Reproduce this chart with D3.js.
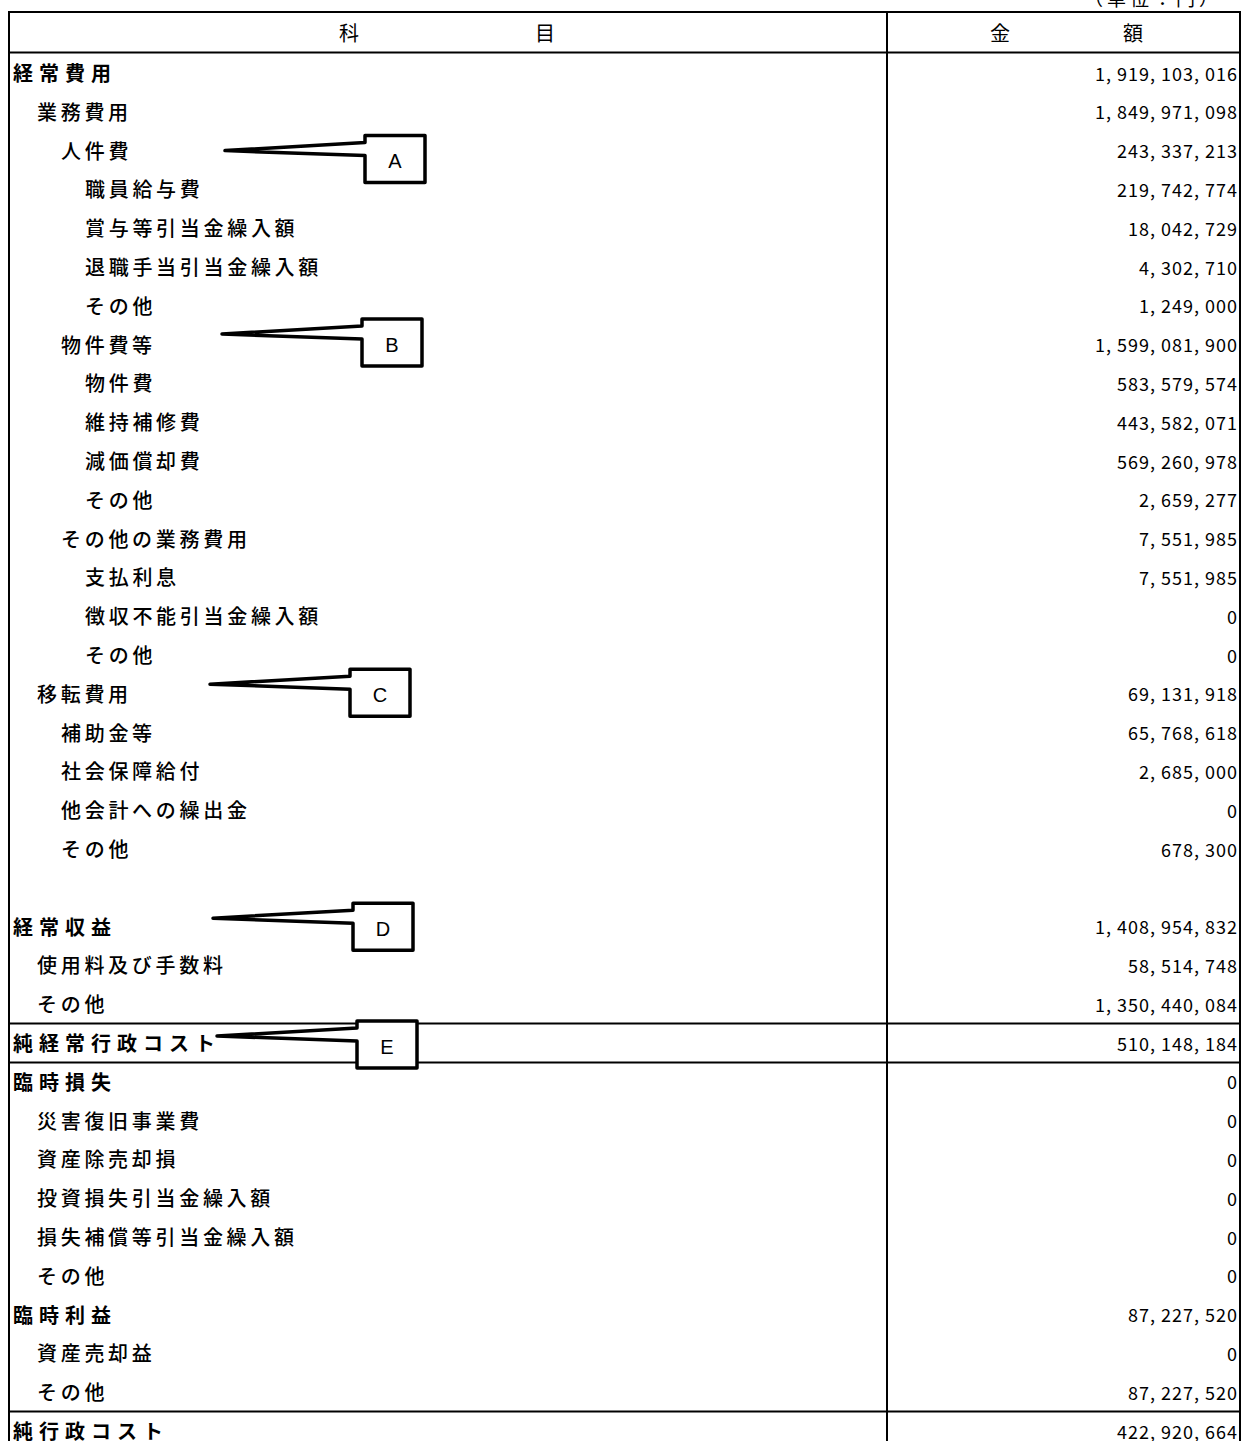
<!DOCTYPE html>
<html>
<head>
<meta charset="utf-8">
<script src="https://cdn.jsdelivr.net/npm/d3@7"></script>
<style>
  body { margin: 0; background: #fff; }
  svg text { font-family: "Noto Sans CJK JP", "Noto Sans", sans-serif; fill: #000; }
</style>
</head>
<body>
<div id="table"></div>
<script>
// Row data (科目 / 金額)
const rowLabels = [
    "経常費用", "業務費用", "人件費", "職員給与費", "賞与等引当金繰入額", "退職手当引当金繰入額", "その他",
    "物件費等", "物件費", "維持補修費", "減価償却費", "その他",
    "その他の業務費用", "支払利息", "徴収不能引当金繰入額", "その他",
    "移転費用", "補助金等", "社会保障給付", "他会計への繰出金", "その他",
    "",
    "経常収益", "使用料及び手数料", "その他",
    "純経常行政コスト",
    "臨時損失", "災害復旧事業費", "資産除売却損", "投資損失引当金繰入額", "損失補償等引当金繰入額", "その他",
    "臨時利益", "資産売却益", "その他",
    "純行政コスト"
];
const rowLevels = [
    0, 1, 2, 3, 3, 3, 3,
    2, 3, 3, 3, 3,
    2, 3, 3, 3,
    1, 2, 2, 2, 2,
    0,
    0, 1, 1,
    0,
    0, 1, 1, 1, 1, 1,
    0, 1, 1,
    0
];
const rowAmounts = [
    1919103016, 1849971098, 243337213, 219742774, 18042729, 4302710, 1249000,
    1599081900, 583579574, 443582071, 569260978, 2659277,
    7551985, 7551985, 0, 0,
    69131918, 65768618, 2685000, 0, 678300,
    null,
    1408954832, 58514748, 1350440084,
    510148184,
    0, 0, 0, 0, 0, 0,
    87227520, 0, 87227520,
    422920664
];
// rows drawn bold
const boldRows = ["経常費用", "経常収益", "純経常行政コスト", "臨時損失", "臨時利益", "純行政コスト"];
// rows that get a rule above them
const ruleAbove = [25, 26, 35];

const headerLeft = ["科", "目"];
const headerRight = ["金", "額"];
const unitLabel = "（単位：円）";

// Callout labels and the row each one points at
const calloutLetters = ["A", "B", "C", "D", "E"];
const calloutRows = [2, 7, 16, 22, 25];

const width = 1250;
const height = 1441;

const svg = d3.select("#table").append("svg")
    .attr("width", width)
    .attr("height", height);

// Column geometry
const xLeft = 9, xDiv = 887, xRight = 1240;
const tableTop = 12, headerBottom = 53.6;
const rowH = 38.8;

const y = d3.scaleBand()
    .domain(d3.range(rowLabels.length))
    .range([headerBottom, headerBottom + rowH * rowLabels.length])
    .padding(0);
const yc = i => y(i) + y.bandwidth() / 2;

const fmt = v => d3.format(",")(v).replace(/,/g, ", ");

// Unit label (partly cut off at the top edge)
svg.append("text")
    .attr("x", 1084)
    .attr("y", 6)
    .attr("font-size", 19)
    .attr("letter-spacing", 4)
    .text(unitLabel);

// Table rules
const lines = svg.append("g")
    .attr("stroke", "#000")
    .attr("stroke-width", 2);

lines.append("line").attr("x1", xLeft).attr("x2", xLeft).attr("y1", tableTop - 1).attr("y2", height);
lines.append("line").attr("x1", xRight).attr("x2", xRight).attr("y1", tableTop - 1).attr("y2", height);
lines.append("line").attr("x1", xDiv).attr("x2", xDiv).attr("y1", tableTop).attr("y2", height);
lines.append("line").attr("x1", xLeft).attr("x2", xRight).attr("y1", tableTop).attr("y2", tableTop);
lines.append("line").attr("x1", xLeft).attr("x2", xRight).attr("y1", headerBottom - 1).attr("y2", headerBottom - 1);

lines.selectAll(".rule")
    .data(ruleAbove)
    .enter()
    .append("line")
    .attr("class", "rule")
    .attr("x1", xLeft)
    .attr("x2", xRight)
    .attr("y1", d => y(d))
    .attr("y2", d => y(d));

// Header texts
const headY = (tableTop + headerBottom) / 2;
svg.selectAll(".head-l")
    .data(headerLeft)
    .enter()
    .append("text")
    .attr("class", "head-l")
    .attr("x", (d, i) => [349, 545][i])
    .attr("y", headY)
    .attr("text-anchor", "middle")
    .attr("dominant-baseline", "central")
    .attr("font-size", 20)
    .text(d => d);

svg.selectAll(".head-r")
    .data(headerRight)
    .enter()
    .append("text")
    .attr("class", "head-r")
    .attr("x", (d, i) => [1000, 1133][i])
    .attr("y", headY)
    .attr("text-anchor", "middle")
    .attr("dominant-baseline", "central")
    .attr("font-size", 20)
    .text(d => d);

// Row labels
svg.append("g").selectAll("text")
    .data(rowLabels)
    .enter()
    .append("text")
    .attr("x", (d, i) => 13 + rowLevels[i] * 24)
    .attr("y", (d, i) => yc(i) - 0.5)
    .attr("dominant-baseline", "central")
    .attr("font-size", 20)
    .attr("letter-spacing", d => boldRows.includes(d) ? 6 : 3.7)
    .attr("font-weight", d => boldRows.includes(d) ? 700 : 500)
    .text(d => d);

// Amounts (blank row has no amount)
const amountRows = rowAmounts
    .map((v, i) => ({ v, i }))
    .filter(d => d.v !== null);

svg.append("g").selectAll("text")
    .data(amountRows)
    .enter()
    .append("text")
    .attr("x", 1238)
    .attr("y", d => yc(d.i) - 0.5)
    .attr("text-anchor", "end")
    .attr("dominant-baseline", "central")
    .attr("font-size", 18)
    .attr("letter-spacing", 1)
    .text(d => fmt(d.v));

// Callouts: tip x and box top offset from the row centre
const calloutLayout = [
    { tipX: 225, top: -15 },
    { tipX: 222, top: -25.6 },
    { tipX: 210, top: -24.6 },
    { tipX: 213, top: -23.4 },
    { tipX: 217, top: -22 }
];
const boxW = 60, boxH = 47;

const callouts = svg.append("g").selectAll("g")
    .data(calloutLetters.map((letter, i) => ({ letter, row: calloutRows[i], ...calloutLayout[i] })))
    .enter()
    .append("g");

callouts.append("path")
    .attr("d", d => {
        const top = yc(d.row) + d.top;
        const bx = d.tipX + 140;
        const p = d3.path();
        p.moveTo(d.tipX, top + 15);
        p.lineTo(bx, top + 7);
        p.lineTo(bx, top);
        p.lineTo(bx + boxW, top);
        p.lineTo(bx + boxW, top + boxH);
        p.lineTo(bx, top + boxH);
        p.lineTo(bx, top + 20);
        p.closePath();
        return p.toString();
    })
    .attr("fill", "#fff")
    .attr("stroke", "#000")
    .attr("stroke-width", 3.5)
    .attr("stroke-linejoin", "round");

callouts.append("text")
    .attr("x", d => d.tipX + 140 + boxW / 2)
    .attr("y", d => yc(d.row) + d.top + boxH / 2 + 2)
    .attr("text-anchor", "middle")
    .attr("dominant-baseline", "central")
    .attr("font-size", 20)
    .style("font-family", "'Liberation Sans', Arial, sans-serif")
    .text(d => d.letter);
</script>
</body>
</html>
